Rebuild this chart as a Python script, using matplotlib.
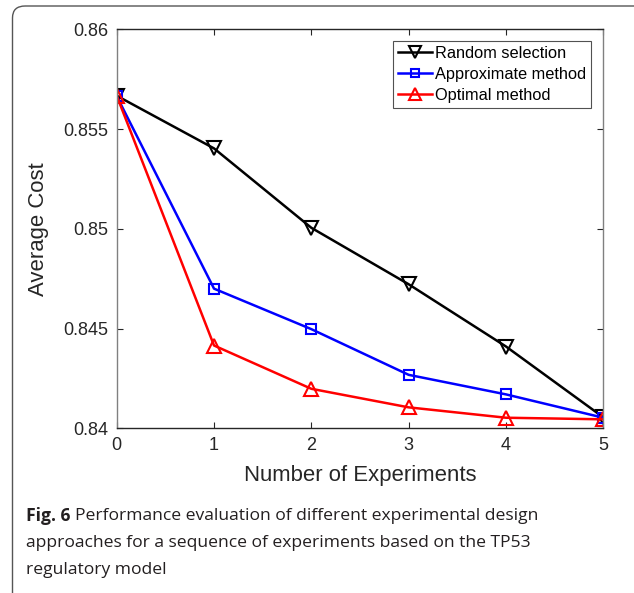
import matplotlib
matplotlib.use("Agg")
import matplotlib.pyplot as plt
from matplotlib.patches import FancyBboxPatch

experiments = [0, 1, 2, 3, 4, 5]
random_sel = [0.85667, 0.85403, 0.85005, 0.84722, 0.84410, 0.84055]
approx_method = [0.85665, 0.84700, 0.84497, 0.84268, 0.84170, 0.84053]
optimal_method = [0.85667, 0.84415, 0.84198, 0.84105, 0.84053, 0.84045]
series_labels = ["Random selection", "Approximate method", "Optimal method"]
yticks = [0.84, 0.845, 0.85, 0.855, 0.86]
ytick_labels = ["0.84", "0.845", "0.85", "0.855", "0.86"]

W, H = 634, 593
fig = plt.figure(figsize=(W / 100, H / 100), dpi=100)
fig.patch.set_facecolor("white")

# caption frame (rounded, open to right/bottom)
frame = FancyBboxPatch((12.5 / W, -0.2), 1.5, (H - 6) / H + 0.2,
                       boxstyle="round,pad=0,rounding_size=0.02",
                       transform=fig.transFigure, fill=False,
                       edgecolor="#555555", linewidth=1.0)
fig.patches.append(frame)

left, right, top, bottom = 116.7, 603.3, 29.3, 428.3
ax = fig.add_axes([left / W, 1 - bottom / H, (right - left) / W, (bottom - top) / H])

font = "Liberation Sans"
ax.plot(experiments, random_sel, color="black", lw=1.8, marker="v", ms=10,
        mfc="none", mew=1.5, label=series_labels[0])
ax.plot(experiments, approx_method, color="#0000ff", lw=1.8, marker="s", ms=6.5,
        mfc="none", mew=1.5, label=series_labels[1])
ax.plot(experiments, optimal_method, color="#ff0000", lw=1.8, marker="^", ms=10,
        mfc="none", mew=1.5, label=series_labels[2])

ax.set_xlim(0, 5)
ax.set_ylim(0.84, 0.86)
ax.set_xticks(experiments)
ax.set_xticklabels([str(e) for e in experiments], fontfamily=font, fontsize=13, color="#262626")
ax.set_yticks(yticks)
ax.set_yticklabels(ytick_labels, fontfamily=font, fontsize=13, color="#262626")
ax.tick_params(direction="in", length=4, width=0.8, top=True, right=True,
               colors="#262626", pad=6)
for s in ["top", "bottom"]:
    ax.spines[s].set_color("#262626")
for s in ["left", "right"]:
    ax.spines[s].set_color("#808080")
for s in ax.spines.values():
    s.set_linewidth(1.0)

ax.set_xlabel("Number of Experiments", fontfamily=font, fontsize=15.9, color="#262626", labelpad=8)
ax.set_ylabel("Average Cost", fontfamily=font, fontsize=15.9, color="#262626", labelpad=10)

leg = ax.legend(loc="upper right", prop={"family": font, "size": 11.8},
                frameon=True, fancybox=False, edgecolor="#262626",
                handlelength=2.1, handletextpad=0.15, borderpad=0.3,
                labelspacing=0.36, borderaxespad=0, markerscale=0.9,
                bbox_to_anchor=(0.974, 0.970))
leg.get_frame().set_linewidth(0.8)

cap_font = "Open Sans"
fs = 12.6
lines_y = [516, 543, 570]
t = fig.text(26 / W, 1 - lines_y[0] / H, "Fig. 6", fontfamily=cap_font, fontweight="bold",
             fontsize=fs, color="#231f20", va="center", ha="left")
fig.canvas.draw()
bb = t.get_window_extent()
fig.text((bb.x1 + 5) / W, 1 - lines_y[0] / H,
         "Performance evaluation of different experimental design",
         fontfamily=cap_font, fontsize=fs, color="#231f20", va="center", ha="left")
fig.text(26 / W, 1 - lines_y[1] / H,
         "approaches for a sequence of experiments based on the TP53",
         fontfamily=cap_font, fontsize=fs, color="#231f20", va="center", ha="left")
fig.text(26 / W, 1 - lines_y[2] / H, "regulatory model",
         fontfamily=cap_font, fontsize=fs, color="#231f20", va="center", ha="left")

fig.savefig("out.png", dpi=100)
